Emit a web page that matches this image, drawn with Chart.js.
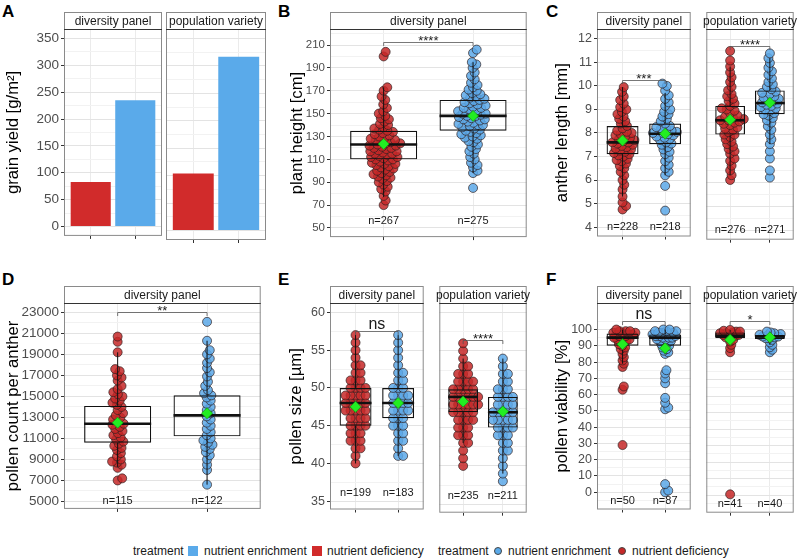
<!DOCTYPE html>
<html>
<head>
<meta charset="utf-8">
<script src="https://cdn.jsdelivr.net/npm/chart.js@4.4.0/dist/chart.umd.min.js"></script>
<style>
  body { margin: 0; width: 800px; height: 559px; position: relative; overflow: hidden; background: #fff;
         font-family: "Liberation Sans", Arial, sans-serif; }
  canvas { position: absolute; }
  .tag { position: absolute; font-size: 17px; font-weight: bold; line-height: 17px; color: #000; }
  .lg { position: absolute; top: 544px; font-size: 12px; line-height: 14px; color: #1a1a1a; white-space: nowrap; }
  .sq { position: absolute; top: 546px; width: 10px; height: 10px; }
  .dot { position: absolute; top: 547px; width: 8px; height: 8px; border-radius: 50%; box-sizing: border-box; border: 1px solid #444; }
</style>
</head>
<body>
<div class="tag" style="left:2px;top:3px">A</div>
<div class="tag" style="left:278px;top:3px">B</div>
<div class="tag" style="left:546px;top:3px">C</div>
<div class="tag" style="left:2px;top:271px">D</div>
<div class="tag" style="left:278px;top:271px">E</div>
<div class="tag" style="left:546px;top:271px">F</div>

<div class="lg" style="left:133px">treatment</div>
<div class="sq" style="left:188px;background:#5AAAEA"></div>
<div class="lg" style="left:204px">nutrient enrichment</div>
<div class="sq" style="left:312px;background:#D12B2B"></div>
<div class="lg" style="left:327px">nutrient deficiency</div>
<div class="lg" style="left:438px">treatment</div>
<div class="dot" style="left:494px;background:#5AAAEA"></div>
<div class="lg" style="left:508px">nutrient enrichment</div>
<div class="dot" style="left:618px;background:#C62828"></div>
<div class="lg" style="left:632px">nutrient deficiency</div>

<script>
const FONT = '"Liberation Sans", Arial, sans-serif';
const RED_BAR = '#D12B2B', BLUE_BAR = '#5AAAEA';
const RED_PT = 'rgba(198,40,40,0.85)', BLUE_PT = 'rgba(92,168,232,0.85)';

// ---- A: grain yield, [deficiency, enrichment] per facet
const aStrips = ['diversity panel', 'population variety'];
const aDeficiency = [83, 104];
const aEnrichment = [235, 317];
const aTicks = [0, 50, 100, 150, 200, 250, 300, 350];

// ---- B: plant height, diversity panel
const bRed = [70, 74, 78, 82, 84, 86, 88, 90, 91, 93, 94, 95, 96, 97, 98, 99, 100, 101, 102, 103, 104, 105, 106, 106,
  107, 108, 109, 110, 110, 111, 112, 112, 113, 114, 115, 115, 116, 117, 117, 118, 119, 120, 120, 121, 122, 122, 123,
  124, 124, 125, 126, 127, 127, 128, 129, 130, 131, 132, 133, 134, 135, 136, 137, 138, 140, 141, 143, 145, 146, 148,
  150, 152, 155, 158, 162, 165, 170, 173, 200, 204];
const bBlue = [85, 98, 100, 103, 105, 107, 110, 112, 115, 117, 119, 121, 123, 125, 126, 128, 129, 130, 131, 132, 133,
  134, 135, 136, 137, 138, 139, 140, 140, 141, 142, 143, 144, 145, 145, 146, 147, 148, 148, 149, 150, 150, 151, 152,
  153, 154, 155, 155, 156, 157, 158, 159, 160, 161, 162, 163, 164, 165, 166, 167, 168, 170, 171, 173, 175, 177, 180,
  183, 186, 190, 193, 195, 203, 206];
const bQ1 = [110, 135], bMed = [123, 148], bQ3 = [135, 162];
const bLo = [77, 98], bHi = [173, 195], bMean = [123.5, 148];
const bN = ['n=267', 'n=275'];
const bTicks = [50, 70, 90, 110, 130, 150, 170, 190, 210];

// ---- C: anther length
const cDpRed = [4.75, 4.9, 5.05, 5.3, 5.6, 5.8, 6.0, 6.2, 6.35, 6.5, 6.6, 6.7, 6.8, 6.85, 6.9, 7.0, 7.05, 7.1, 7.15,
  7.2, 7.25, 7.3, 7.35, 7.4, 7.45, 7.5, 7.55, 7.6, 7.6, 7.65, 7.7, 7.75, 7.8, 7.85, 7.9, 7.95, 8.0, 8.05, 8.1, 8.2,
  8.3, 8.4, 8.5, 8.6, 8.7, 8.8, 8.9, 9.0, 9.1, 9.25, 9.4, 9.55, 9.75, 9.95];
const cDpBlue = [4.7, 5.75, 6.2, 6.35, 6.5, 6.65, 6.8, 6.95, 7.1, 7.2, 7.3, 7.4, 7.5, 7.55, 7.6, 7.7, 7.75, 7.8, 7.85,
  7.9, 7.95, 8.0, 8.0, 8.05, 8.1, 8.15, 8.2, 8.25, 8.3, 8.4, 8.5, 8.6, 8.7, 8.8, 8.9, 9.0, 9.15, 9.3, 9.45, 9.6, 9.8,
  10.0, 10.1];
const cPvRed = [6.1, 6.3, 6.5, 6.7, 6.9, 7.0, 7.2, 7.3, 7.4, 7.5, 7.6, 7.7, 7.8, 7.9, 8.0, 8.0, 8.1, 8.2, 8.25, 8.3,
  8.4, 8.45, 8.5, 8.55, 8.6, 8.6, 8.65, 8.7, 8.75, 8.8, 8.9, 9.0, 9.05, 9.1, 9.2, 9.3, 9.4, 9.5, 9.6, 9.7, 9.85, 10.0,
  10.2, 10.4, 10.6, 10.85, 11.1, 11.5];
const cPvBlue = [6.2, 6.5, 7.0, 7.3, 7.6, 7.8, 8.0, 8.2, 8.35, 8.5, 8.6, 8.7, 8.8, 8.85, 8.9, 9.0, 9.05, 9.1, 9.15,
  9.2, 9.25, 9.3, 9.35, 9.4, 9.45, 9.5, 9.55, 9.6, 9.7, 9.75, 9.8, 9.9, 10.0, 10.1, 10.2, 10.35, 10.5, 10.65, 10.8,
  11.0, 11.2, 11.4];
const cDpQ1 = [7.1, 7.52], cDpMed = [7.6, 7.97], cDpQ3 = [8.3, 8.4];
const cDpLo = [5.3, 6.2], cDpHi = [9.95, 9.7], cDpMean = [7.68, 7.97];
const cPvQ1 = [8.0, 8.85], cPvMed = [8.6, 9.32], cPvQ3 = [9.2, 9.85];
const cPvLo = [6.3, 7.6], cPvHi = [10.85, 11.2], cPvMean = [8.62, 9.33];
const cDpN = ['n=228', 'n=218'], cPvN = ['n=276', 'n=271'];
const cTicks = [4, 5, 6, 7, 8, 9, 10, 11, 12];

// ---- D: pollen count per anther
const dRed = [7000, 7200, 8200, 8500, 8700, 8800, 9000, 9300, 9600, 9900, 10100, 10300, 10500, 10700, 10900, 11100,
  11300, 11500, 11700, 11900, 12100, 12300, 12400, 12600, 12800, 13000, 13200, 13400, 13700, 14000, 14200, 14400,
  14600, 14800, 15000, 15200, 15400, 15700, 16000, 16500, 16800, 17000, 17400, 17600, 19200, 20200, 20700];
const dBlue = [6600, 8000, 8500, 9000, 9400, 9700, 10000, 10200, 10400, 10600, 10800, 11000, 11300, 11600, 11900,
  12200, 12500, 12800, 13100, 13400, 13700, 14000, 14300, 14600, 14900, 15100, 15300, 15600, 16000, 16400, 16900,
  17300, 17700, 18200, 18600, 19000, 19400, 20300, 22100];
const dQ1 = [10600, 11200], dMed = [12400, 13200], dQ3 = [14100, 15100];
const dLo = [8300, 6600], dHi = [19200, 20300], dMean = [12500, 13400];
const dN = ['n=115', 'n=122'];
const dTicks = [5000, 7000, 9000, 11000, 13000, 15000, 17000, 19000, 21000, 23000];

// ---- E: pollen size
const eDpRed = [40, 41, 42, 42, 43, 43, 43, 44, 44, 44, 45, 45, 45, 45, 46, 46, 46, 46, 47, 47, 47, 47, 47, 48, 48,
  48, 48, 48, 49, 49, 49, 49, 49, 50, 50, 50, 50, 51, 51, 51, 52, 52, 53, 53, 54, 55, 56, 57];
const eDpBlue = [41, 41, 42, 43, 43, 44, 44, 45, 45, 45, 46, 46, 46, 47, 47, 47, 47, 48, 48, 48, 48, 49, 49, 49, 49,
  50, 50, 50, 51, 51, 52, 52, 53, 54, 55, 56, 57];
const ePvRed = [40, 41, 42, 43, 43, 44, 44, 44, 45, 45, 45, 46, 46, 46, 46, 47, 47, 47, 47, 47, 48, 48, 48, 48, 48,
  48, 49, 49, 49, 49, 49, 49, 50, 50, 50, 50, 50, 51, 51, 51, 51, 52, 52, 52, 53, 53, 54, 55, 56];
const ePvBlue = [38, 39, 40, 41, 42, 42, 43, 43, 44, 44, 44, 45, 45, 45, 45, 46, 46, 46, 46, 46, 47, 47, 47, 47, 47,
  48, 48, 48, 48, 49, 49, 49, 49, 50, 50, 50, 51, 51, 52, 52, 53, 54];
const eDpQ1 = [45, 46], eDpMed = [48, 48], eDpQ3 = [50, 50];
const eDpLo = [40, 41], eDpHi = [57, 57], eDpMean = [47.5, 48];
const ePvQ1 = [47, 45], ePvMed = [49, 47], ePvQ3 = [50, 49];
const ePvLo = [43, 39], ePvHi = [54, 54], ePvMean = [48.4, 47.1];
const eDpN = ['n=199', 'n=183'], ePvN = ['n=235', 'n=211'];
const eTicks = [35, 40, 45, 50, 55, 60];

// ---- F: pollen viability
const fDpRed = [29, 63, 65, 77, 79, 81, 83, 85, 87, 88, 89, 90, 91, 92, 93, 93, 94, 94, 95, 95, 96, 96, 97, 97, 97,
  98, 98, 98, 99, 99, 99, 100];
const fDpBlue = [0, 1, 5, 51, 52, 55, 58, 67, 70, 73, 75, 85, 86, 87, 88, 89, 90, 90, 91, 92, 92, 93, 93, 94, 94, 95,
  95, 95, 96, 96, 96, 97, 97, 97, 98, 98, 98, 99, 99, 99, 100, 100];
const fPvRed = [0.5, 86.5, 89, 91, 93, 94, 95, 95.5, 96, 96.5, 97, 97, 97.5, 98, 98, 98.5, 99, 99, 99.5, 100];
const fPvBlue = [86.5, 88, 89.5, 91, 92.5, 94, 95, 95, 95.5, 96, 96, 96.5, 97, 97, 97.5, 98, 98.5, 99];
const fDpQ1 = [90, 90], fDpMed = [95, 95], fDpQ3 = [97.5, 97];
const fDpLo = [79, 85], fDpHi = [100, 100], fDpMean = [91, 88.5];
const fPvQ1 = [95, 94.5], fPvMed = [96.5, 96], fPvQ3 = [98.5, 97];
const fPvLo = [91, 91], fPvHi = [100, 99], fPvMean = [94, 95.5];
const fDpN = ['n=50', 'n=87'], fPvN = ['n=41', 'n=40'];
const fTicks = [0, 10, 20, 30, 40, 50, 60, 70, 80, 90, 100];

// place points of one group as a beeswarm around `center` (pixel spacing d)
function swarm(values, center, sy, unit, d) {
  const order = values.map((v, i) => i).sort((a, b) => values[a] - values[b]);
  const placed = [];
  const out = new Array(values.length);
  for (const i of order) {
    const py = sy.getPixelForValue(values[i]);
    const near = placed.filter(p => Math.abs(p.y - py) < d);
    const cands = [0];
    near.forEach(p => {
      const dx = Math.sqrt(d * d - (p.y - py) ** 2);
      cands.push(p.x + dx, p.x - dx);
    });
    cands.sort((a, b) => Math.abs(a) - Math.abs(b));
    const px = cands.find(c => near.every(p => (p.x - c) ** 2 + (p.y - py) ** 2 >= d * d - 0.01));
    placed.push({ x: px, y: py });
    out[i] = { x: center + px / unit, y: values[i] };
  }
  return out;
}

function decor(o) {
  return {
    id: 'decor',
    afterDatasetDraw(chart, args) {
      if (o.kind !== 'box' || args.index !== 2) return;
      const { ctx } = chart;
      const sx = chart.scales.x, sy = chart.scales.y;
      const half = (sx.getPixelForValue(2) - sx.getPixelForValue(1)) * 0.375;
      ctx.save();
      ctx.strokeStyle = '#111';
      [0, 1].forEach(i => {
        const x = sx.getPixelForValue(i + 1);
        ctx.lineWidth = 1;
        ctx.beginPath();
        ctx.moveTo(x, sy.getPixelForValue(o.lo[i]));
        ctx.lineTo(x, sy.getPixelForValue(o.q1[i]));
        ctx.moveTo(x, sy.getPixelForValue(o.q3[i]));
        ctx.lineTo(x, sy.getPixelForValue(o.hi[i]));
        ctx.stroke();
        ctx.lineWidth = 2.6;
        ctx.beginPath();
        const m = sy.getPixelForValue(o.med[i]);
        ctx.moveTo(x - half, m);
        ctx.lineTo(x + half, m);
        ctx.stroke();
      });
      ctx.restore();
    },
    afterDraw(chart) {
      const { ctx, chartArea: a } = chart;
      const sx = chart.scales.x, sy = chart.scales.y;
      ctx.save();
      // panel border
      ctx.strokeStyle = '#8a8a8a';
      ctx.lineWidth = 1;
      ctx.strokeRect(a.left + 0.5, a.top + 0.5, a.right - a.left - 1, a.bottom - a.top - 1);
      // strip
      const st = a.top - o.stripH;
      ctx.fillStyle = '#fff';
      ctx.fillRect(a.left, st, a.right - a.left, o.stripH);
      ctx.strokeRect(a.left + 0.5, st + 0.5, a.right - a.left - 1, o.stripH);
      ctx.strokeStyle = '#333';
      ctx.beginPath();
      ctx.moveTo(a.left, a.top + 0.5);
      ctx.lineTo(a.right, a.top + 0.5);
      ctx.stroke();
      ctx.fillStyle = '#1a1a1a';
      ctx.font = '12px ' + FONT;
      ctx.textAlign = 'center';
      ctx.textBaseline = 'middle';
      ctx.fillText(o.strip, (a.left + a.right) / 2, st + o.stripH / 2 + 1);
      if (o.kind === 'box') {
        // n labels
        ctx.font = '11px ' + FONT;
        o.n.forEach((t, i) => ctx.fillText(t, sx.getPixelForValue(i + 1), sy.getPixelForValue(o.nY)));
        // significance bracket
        const x1 = sx.getPixelForValue(1), x2 = sx.getPixelForValue(2);
        const by = Math.round(sy.getPixelForValue(o.sigY)) + 0.5;
        ctx.strokeStyle = '#555';
        ctx.lineWidth = 0.8;
        ctx.beginPath();
        ctx.moveTo(x1, by + 3.5);
        ctx.lineTo(x1, by);
        ctx.lineTo(x2, by);
        ctx.lineTo(x2, by + 3.5);
        ctx.stroke();
        ctx.fillStyle = '#1a1a1a';
        ctx.font = o.sigSize + 'px ' + FONT;
        ctx.textBaseline = 'alphabetic';
        ctx.fillText(o.sig, (x1 + x2) / 2, by - (o.sig === 'ns' ? 3 : -2));
      }
      ctx.restore();
    }
  };
}

function facet(o) {
  const axisW = o.axis ? 64 : 0;
  o.stripH = o.stripBottom - o.stripTop;
  const cv = document.createElement('canvas');
  cv.width = o.right - o.left + axisW + 1;
  cv.height = o.bottom - o.stripTop + 6;
  cv.style.left = (o.left - axisW) + 'px';
  cv.style.top = o.stripTop + 'px';
  document.body.appendChild(cv);

  const majors = o.ticks;
  const isMajor = v => majors.some(m => Math.abs(m - v) < 1e-9);

  let datasets;
  if (o.kind === 'bar') {
    datasets = [{
      type: 'bar',
      data: [{ x: 1, y: o.def }, { x: 2, y: o.enr }],
      backgroundColor: [RED_BAR, BLUE_BAR],
      barPercentage: 0.9,
      categoryPercentage: 1,
    }];
  } else {
    const pt = (fill) => ({
      type: 'scatter',
      backgroundColor: fill,
      borderColor: 'rgba(45,30,30,0.85)',
      borderWidth: 0.8,
      pointRadius: 4.5,
      order: 5,
    });
    datasets = [
      { ...pt(RED_PT), data: o.red.map(v => ({ x: 1, y: v })) },
      { ...pt(BLUE_PT), data: o.blue.map(v => ({ x: 2, y: v })) },
      {
        type: 'bar',
        data: [0, 1].map(i => ({ x: i + 1, y: [o.q1[i], o.q3[i]] })),
        backgroundColor: 'rgba(0,0,0,0)',
        borderColor: '#111',
        borderWidth: 1.2,
        borderSkipped: false,
        barPercentage: 0.75,
        categoryPercentage: 1,
        order: 2,
      },
      {
        type: 'scatter',
        data: [0, 1].map(i => ({ x: i + 1, y: o.mean[i] })),
        pointStyle: 'rectRot',
        pointRadius: 5.5,
        backgroundColor: '#22EE22',
        borderColor: '#13A013',
        borderWidth: 0.8,
        order: 0,
      },
    ];
  }

  const chart = new Chart(cv, {
    type: 'scatter',
    data: { datasets },
    options: {
      responsive: false,
      animation: false,
      events: [],
      layout: { padding: { top: o.stripH, left: 0, right: 1, bottom: 0 } },
      plugins: { legend: { display: false }, tooltip: { enabled: false } },
      scales: {
        x: {
          type: 'linear', min: 0.4, max: 2.6, offset: false,
          afterBuildTicks: s => { s.ticks = [{ value: 1 }, { value: 2 }]; },
          ticks: { autoSkip: false, callback: () => '' },
          grid: { offset: false, color: '#EBEBEB', tickLength: 3, tickColor: '#333' },
          border: { display: false },
          afterFit: s => { s.height = 6; },
        },
        y: {
          type: 'linear', min: o.ymin, max: o.ymax,
          // major ticks from the tick array, minor ticks half-way between them
          afterBuildTicks: s => {
            const gap = majors[1] - majors[0];
            const vals = [majors[0] - gap / 2];
            majors.forEach(m => vals.push(m, m + gap / 2));
            s.ticks = vals.filter(v => v >= o.ymin && v <= o.ymax).map(v => ({ value: v }));
          },
          ticks: {
            display: !!o.axis,
            autoSkip: false, padding: 2,
            color: '#4D4D4D',
            font: { size: o.tickSize, family: FONT },
            callback: v => isMajor(v) ? String(v) : '',
          },
          grid: {
            drawTicks: !!o.axis,
            tickLength: 3,
            color: ctx => isMajor(ctx.tick.value) ? '#E3E3E3' : '#F2F2F2',
            tickColor: ctx => isMajor(ctx.tick.value) ? '#333' : 'rgba(0,0,0,0)',
          },
          border: { display: false },
          title: {
            display: !!o.axis, text: o.title || '', color: '#000',
            font: { size: 16.7, family: FONT },
            padding: { top: o.titlePad || 0, bottom: 0 },
          },
          afterFit: s => { s.width = axisW; },
        },
      },
    },
    plugins: [decor(o)],
  });

  if (o.kind === 'box') {
    const sx = chart.scales.x, sy = chart.scales.y;
    const unit = sx.getPixelForValue(2) - sx.getPixelForValue(1);
    chart.data.datasets[0].data = swarm(o.red, 1, sy, unit, o.d);
    chart.data.datasets[1].data = swarm(o.blue, 2, sy, unit, o.d);
    chart.update('none');
  }
}

const top1 = { stripTop: 12, stripBottom: 29, bottom: 240 };
const top2 = { stripTop: 286, stripBottom: 303, bottom: 513 };

// A
const aAxis = { ymin: -17.5, ymax: 367.5, ticks: aTicks, tickSize: 13.5 };
facet({ ...top1, ...aAxis, kind: 'bar', left: 64, right: 162, axis: true, titlePad: 3.8, title: 'grain yield [g/m²]',
  strip: aStrips[0], def: aDeficiency[0], enr: aEnrichment[0] });
facet({ ...top1, ...aAxis, kind: 'bar', left: 166, right: 266, strip: aStrips[1], def: aDeficiency[1], enr: aEnrichment[1] });

// B
facet({ ...top1, kind: 'box', left: 330, right: 532, axis: true, titlePad: 21.3, title: 'plant height [cm]',
  strip: 'diversity panel', ymin: 42, ymax: 224, ticks: bTicks, tickSize: 11.5,
  red: bRed, blue: bBlue, q1: bQ1, med: bMed, q3: bQ3, lo: bLo, hi: bHi, mean: bMean, n: bN, nY: 56,
  sig: '****', sigY: 212.4, sigSize: 13, d: 5 });

// C
const cAxis = { ymin: 3.6, ymax: 12.42, ticks: cTicks, tickSize: 12.5, nY: 4.0, d: 5 };
facet({ ...top1, ...cAxis, kind: 'box', left: 597, right: 696, axis: true, titlePad: 19.8, title: 'anther length [mm]',
  strip: 'diversity panel', red: cDpRed, blue: cDpBlue, q1: cDpQ1, med: cDpMed, q3: cDpQ3, lo: cDpLo, hi: cDpHi,
  mean: cDpMean, n: cDpN, sig: '***', sigY: 10.27, sigSize: 13 });
facet({ ...top1, ...cAxis, kind: 'box', left: 700, right: 799,
  strip: 'population variety', red: cPvRed, blue: cPvBlue, q1: cPvQ1, med: cPvMed, q3: cPvQ3, lo: cPvLo, hi: cPvHi,
  mean: cPvMean, n: cPvN, sig: '****', sigY: 11.69, sigSize: 13 });

// D
facet({ ...top2, kind: 'box', left: 64, right: 266, axis: true, titlePad: 3.8, title: 'pollen count per anther',
  strip: 'diversity panel', ymin: 4292, ymax: 23894, ticks: dTicks, tickSize: 13.5,
  red: dRed, blue: dBlue, q1: dQ1, med: dMed, q3: dQ3, lo: dLo, hi: dHi, mean: dMean, n: dN, nY: 5000,
  sig: '**', sigY: 23000, sigSize: 13, d: 5 });

// E
const eAxis = { ymin: 33.9, ymax: 61.25, ticks: eTicks, tickSize: 12.5, nY: 36.1, d: 5 };
facet({ ...top2, ...eAxis, kind: 'box', left: 330, right: 429, axis: true, titlePad: 20.5, title: 'pollen size [µm]',
  strip: 'diversity panel', red: eDpRed, blue: eDpBlue, q1: eDpQ1, med: eDpMed, q3: eDpQ3, lo: eDpLo, hi: eDpHi,
  mean: eDpMean, n: eDpN, sig: 'ns', sigY: 57.5, sigSize: 16 });
facet({ ...top2, ...eAxis, kind: 'box', left: 433, right: 532,
  strip: 'population variety', red: ePvRed, blue: ePvBlue, q1: ePvQ1, med: ePvMed, q3: ePvQ3, lo: ePvLo, hi: ePvHi,
  mean: ePvMean, n: ePvN, sig: '****', sigY: 56.4, sigSize: 13 });

// F
const fAxis = { ymin: -10.6, ymax: 116.3, ticks: fTicks, tickSize: 12.5, nY: -5.6, d: 3.5 };
facet({ ...top2, ...fAxis, kind: 'box', left: 597, right: 696, axis: true, titlePad: 19.8, title: 'pollen viability [%]',
  strip: 'diversity panel', red: fDpRed, blue: fDpBlue, q1: fDpQ1, med: fDpMed, q3: fDpQ3, lo: fDpLo, hi: fDpHi,
  mean: fDpMean, n: fDpN, sig: 'ns', sigY: 105.4, sigSize: 16 });
facet({ ...top2, ...fAxis, kind: 'box', left: 700, right: 799,
  strip: 'population variety', red: fPvRed, blue: fPvBlue, q1: fPvQ1, med: fPvMed, q3: fPvQ3, lo: fPvLo, hi: fPvHi,
  mean: fPvMean, n: fPvN, sig: '*', sigY: 105.4, sigSize: 13 });
</script>
</body>
</html>
